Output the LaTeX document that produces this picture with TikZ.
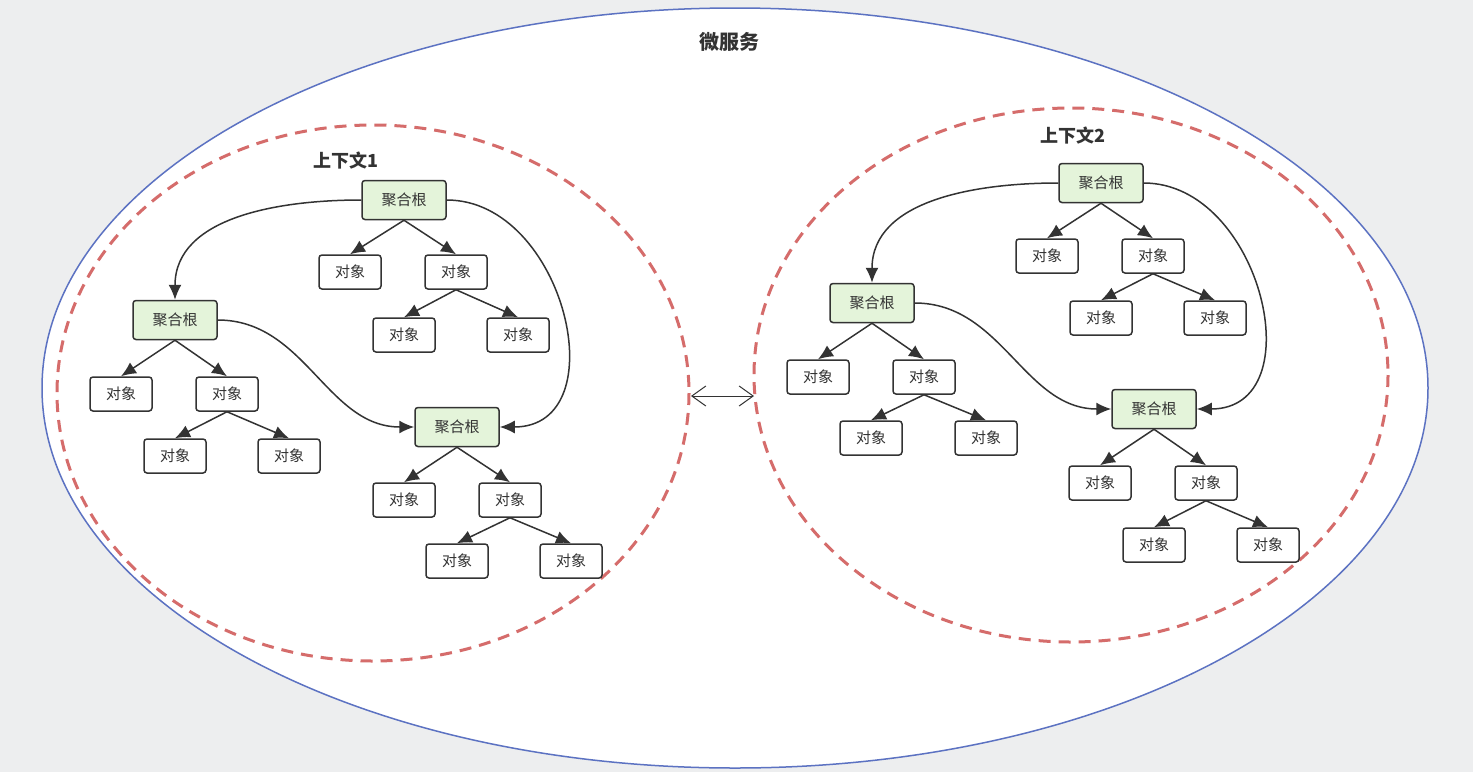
\documentclass[tikz,border=0pt]{standalone}
\usepackage{fontspec}
\setmainfont{Noto Sans CJK SC}
\usetikzlibrary{arrows.meta}
\definecolor{fondo}{HTML}{EDEEEF}
\definecolor{borde}{HTML}{5C72C2}
\definecolor{rojo}{HTML}{D56C6B}
\definecolor{verde}{HTML}{E4F4DA}
\definecolor{tinta}{HTML}{333333}
\tikzset{
  raiz/.style={draw=tinta, fill=verde, line width=1.5pt, rounded corners=3pt,
    minimum width=84pt, minimum height=39pt, font=\fontsize{15}{17}\selectfont, text=tinta},
  objeto/.style={draw=tinta, fill=white, line width=1.5pt, rounded corners=3pt,
    minimum width=62pt, minimum height=34pt, font=\fontsize{15}{17}\selectfont, text=tinta},
  flecha/.style={draw=tinta, line width=1.5pt, -{Latex[length=15pt,width=13pt]}},
  contexto/.style={draw=rojo, line width=3pt, dash pattern=on 12pt off 8pt}
}
\begin{document}
\begin{tikzpicture}[x=1pt,y=-1pt]
                    \useasboundingbox (0,0) rectangle (1473,772);
                    % Fondo
                    \fill [fondo] (0,0) rectangle (1473,772);
                    % Microservicio
                    \filldraw [draw=borde, fill=white, line width=1.5pt] (735,388) ellipse [x radius=693, y radius=380];
                    \node (titulo) at (729,42) {\fontsize{20}{22}\selectfont\bfseries\color{tinta}微服务};
                    % Contextos
                    \draw [contexto] (373,393) ellipse [x radius=316, y radius=268];
                    \draw [contexto] (1071,375) ellipse [x radius=317, y radius=267];
                    \node (ctxa) at (346,161) {\fontsize{18}{20}\selectfont\bfseries\color{tinta}上下文1};
                    \node (ctxb) at (1073,136) {\fontsize{18}{20}\selectfont\bfseries\color{tinta}上下文2};
                    \coordinate (pa) at (691,396);
                    \coordinate (pb) at (754,396);
                    \draw [tinta, line width=1pt, {Straight Barb[length=14pt,width=20pt]}-{Straight Barb[length=14pt,width=20pt]}] (pa) -- (pb);
                    % Contexto 1, raiz A
                    \node [raiz] (la) at (404,200) {聚合根};
                    \node [objeto] (la1) at (350,272) {对象};
                    \node [objeto] (la2) at (456,272) {对象};
                    \node [objeto] (la3) at (404,335) {对象};
                    \node [objeto] (la4) at (518,335) {对象};
                    % Contexto 1, raiz B
                    \node [raiz] (lb) at (175,320) {聚合根};
                    \node [objeto] (lb1) at (121,394) {对象};
                    \node [objeto] (lb2) at (227,394) {对象};
                    \node [objeto] (lb3) at (175,456) {对象};
                    \node [objeto] (lb4) at (289,456) {对象};
                    % Contexto 1, raiz C
                    \node [raiz] (lc) at (457,427) {聚合根};
                    \node [objeto] (lc1) at (404,500) {对象};
                    \node [objeto] (lc2) at (510,500) {对象};
                    \node [objeto] (lc3) at (457,561) {对象};
                    \node [objeto] (lc4) at (571,561) {对象};
                    % Contexto 2, raiz A
                    \node [raiz] (ra) at (1101,183) {聚合根};
                    \node [objeto] (ra1) at (1047,256) {对象};
                    \node [objeto] (ra2) at (1153,256) {对象};
                    \node [objeto] (ra3) at (1101,318) {对象};
                    \node [objeto] (ra4) at (1215,318) {对象};
                    % Contexto 2, raiz B
                    \node [raiz] (rb) at (872,303) {聚合根};
                    \node [objeto] (rb1) at (818,377) {对象};
                    \node [objeto] (rb2) at (924,377) {对象};
                    \node [objeto] (rb3) at (871,438) {对象};
                    \node [objeto] (rb4) at (986,438) {对象};
                    % Contexto 2, raiz C
                    \node [raiz] (rc) at (1154,409) {聚合根};
                    \node [objeto] (rc1) at (1100,483) {对象};
                    \node [objeto] (rc2) at (1206,483) {对象};
                    \node [objeto] (rc3) at (1154,545) {对象};
                    \node [objeto] (rc4) at (1268,545) {对象};
                    % Arboles
                    \foreach \r in {la,lb,lc,ra,rb,rc} {
                      \draw [flecha] (\r.south) -- (\r1.north);
                      \draw [flecha] (\r.south) -- (\r2.north);
                      \draw [flecha] (\r2.south) -- (\r3.north);
                      \draw [flecha] (\r2.south) -- (\r4.north);
                    }
                    % Referencias entre raices
                    \draw [flecha] (la.west) to[out=180,in=90] (lb.north);
                    \draw [flecha] (la.east) to[out=0,in=0,looseness=1.3] (lc.east);
                    \draw [flecha] (lb.east) to[out=0,in=180] (lc.west);
                    \draw [flecha] (ra.west) to[out=180,in=90] (rb.north);
                    \draw [flecha] (ra.east) to[out=0,in=0,looseness=1.3] (rc.east);
                    \draw [flecha] (rb.east) to[out=0,in=180] (rc.west);
                \end{tikzpicture}
\end{document}
